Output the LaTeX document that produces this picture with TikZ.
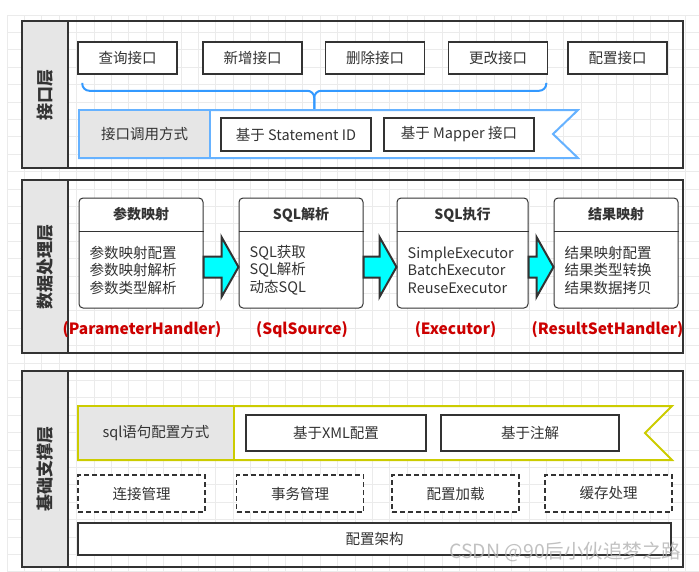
\documentclass[tikz,border=0pt]{standalone}
\usepackage{fontspec}
\setmainfont{Noto Sans CJK SC}
\usetikzlibrary{calc}

\definecolor{ink}{HTML}{333333}
\definecolor{sidegray}{HTML}{E6E6E6}
\definecolor{bluebar}{HTML}{66B2FF}
\definecolor{bracebl}{HTML}{3399FF}
\definecolor{yellowbar}{HTML}{CCCC00}
\definecolor{flowcyan}{HTML}{00FFFF}
\definecolor{handred}{HTML}{CC0000}
\definecolor{gridgray}{HTML}{EBEBEB}

\begin{document}
\begin{tikzpicture}[
  x=1pt, y=-1pt,
  font=\fontsize{14.5}{17.5}\selectfont,
  text=ink,
  gridline/.style={gridgray, line width=0.9pt},
  layer/.style={
    draw=ink,
    line width=1.2pt,
    minimum width=661pt,
    inner sep=0pt
  },
  sidebar/.style={
    draw=ink,
    line width=1.2pt,
    fill=sidegray,
    minimum width=46pt,
    inner sep=0pt
  },
  sidelabel/.style={rotate=90, font=\fontsize{17}{20}\selectfont\bfseries},
  apibox/.style={
    draw=ink,
    line width=1.5pt,
    fill=white,
    minimum width=99pt,
    minimum height=32pt,
    inner sep=0pt
  },
  callbox/.style={draw=ink, line width=2pt, fill=white, inner sep=0pt},
  waycell/.style={fill=sidegray, line width=2pt, inner sep=0pt},
  card/.style={
    draw=ink,
    line width=1pt,
    fill=white,
    rounded corners=4pt,
    minimum height=110pt,
    inner sep=0pt
  },
  cardhead/.style={font=\fontsize{14}{17}\selectfont\bfseries},
  cardbody/.style={align=left, anchor=west, inner sep=0pt},
  handler/.style={text=handred, font=\fontsize{15.5}{19}\selectfont\bfseries},
  flow/.style={draw=ink, line width=2pt, fill=flowcyan, line join=miter},
  optbox/.style={
    draw=ink,
    line width=1.2pt,
    dash pattern=on 5pt off 3pt,
    fill=white,
    minimum width=127pt,
    minimum height=37pt,
    inner sep=0pt
  },
  brace/.style={draw=bracebl, line width=2pt, rounded corners=7pt}
]

\useasboundingbox (0,0) rectangle (699,571);

% Background grid
\begin{scope}
  \clip (7,15) rectangle (699,571);
  \foreach \i in {0,...,40}
    \draw[gridline] (7+17.4*\i,15) -- (7+17.4*\i,571);
  \foreach \j in {0,...,32}
    \draw[gridline] (7,15+17.4*\j) -- (699,15+17.4*\j);
\end{scope}

% Three layers with side labels
\foreach \n/\cy/\h/\lbl in {L1/94.5/147/接口层, L2/266.5/173/数据处理层, L3/469/196/基础支撑层}{
  \node[layer, minimum height=\h pt] (\n) at (352.5,\cy) {};
  \node[sidebar, minimum height=\h pt] (\n-side) at (45,\cy) {};
  \node[sidelabel] (\n-text) at (\n-side) {\lbl};
}

% Interface layer
\foreach \n/\x/\lbl in {q/127.5/查询接口, a/252.5/新增接口, d/375/删除接口, u/498/更改接口, c/617.5/配置接口}
  \node[apibox] (api-\n) at (\x,58) {\lbl};

\coordinate (brL) at ($(api-q.south west)+(5,8)$);
\coordinate (brR) at ($(api-u.south east)+(-2,8)$);
\coordinate (brT) at ($(brL)!0.5!(brR)+(0,26)$);
\draw[brace] (brL) -- ++(0,8) -| (brT);
\draw[brace] (brR) -- ++(0,8) -| (brT);

\draw[draw=bluebar, line width=2pt, fill=white]
  (79,110) -- (578,110) -- (553,134) -- (578,158) -- (79,158) -- cycle;
\node[waycell, draw=bluebar, minimum width=131pt, minimum height=48pt] (callway) at (144.5,134) {接口调用方式};
\node[callbox, minimum width=150pt, minimum height=33pt] (stmt) at (296,134.5) {基于 Statement ID};
\node[callbox, minimum width=150pt, minimum height=33pt] (mapper) at (459,134.5) {基于 Mapper 接口};

% Data processing layer
\foreach \n/\x/\w/\hd/\bd/\lx/\lb in {
  pm/141/124/参数映射/{参数映射配置\\参数映射解析\\参数类型解析}/142/(ParameterHandler),
  sp/301/124/SQL解析/{SQL获取\\SQL解析\\动态SQL}/302/(SqlSource),
  ex/462.5/131/SQL执行/{SimpleExecutor\\BatchExecutor\\ReuseExecutor}/455.5/(Executor),
  rm/616/124/结果映射/{结果映射配置\\结果类型转换\\结果数据拷贝}/607.5/(ResultSetHandler)}{
  \node[card, minimum width=\w pt] (\n) at (\x,253) {};
  \draw[ink, line width=1pt] ($(\n.north west)+(0,34)$) -- ($(\n.north east)+(0,34)$);
  \node[cardhead] (\n-head) at ($(\n.north)+(0,17)$) {\hd};
  \node[cardbody] (\n-body) at ($(\n.west)+(11,17)$) {\bd};
  \node[handler] (\n-cls) at (\lx,330) {\lb};
}

\foreach \a/\b in {pm/sp, sp/ex, ex/rm}
  \draw[flow] ($(\a.east)+(0,3.5)$) -- ($(\b.west)+(-17,3.5)$) -- ($(\b.west)+(-17,-16)$)
    -- ($(\b.west)+(0,14)$) -- ($(\b.west)+(-17,44)$) -- ($(\b.west)+(-17,24.5)$)
    -- ($(\a.east)+(0,24.5)$) -- cycle;

% Support layer
\draw[draw=yellowbar, line width=2pt, fill=white]
  (78,406) -- (672,406) -- (645,433) -- (672,460) -- (78,460) -- cycle;
\node[waycell, draw=yellowbar, minimum width=156pt, minimum height=54pt] (sqlway) at (156,433) {sql语句配置方式};
\node[callbox, minimum width=180pt, minimum height=36pt] (xml) at (336,433) {基于XML配置};
\node[callbox, minimum width=178pt, minimum height=36pt] (anno) at (530,433) {基于注解};

\foreach \n/\x/\lbl in {conn/141.5/连接管理, tx/300/事务管理, load/455.5/配置加载, cache/608.5/缓存处理}
  \node[optbox] (\n) at (\x,493.5) {\lbl};

\node[draw=ink, line width=1.2pt, fill=white, minimum width=593pt, minimum height=32pt] (frame) at (374.5,539) {配置架构};

\node[text=gray!60, opacity=0.8, font=\fontsize{19.5}{22}\selectfont, anchor=east] (wm) at (685,552) {CSDN @90后小伙追梦之路};

\end{tikzpicture}
\end{document}
